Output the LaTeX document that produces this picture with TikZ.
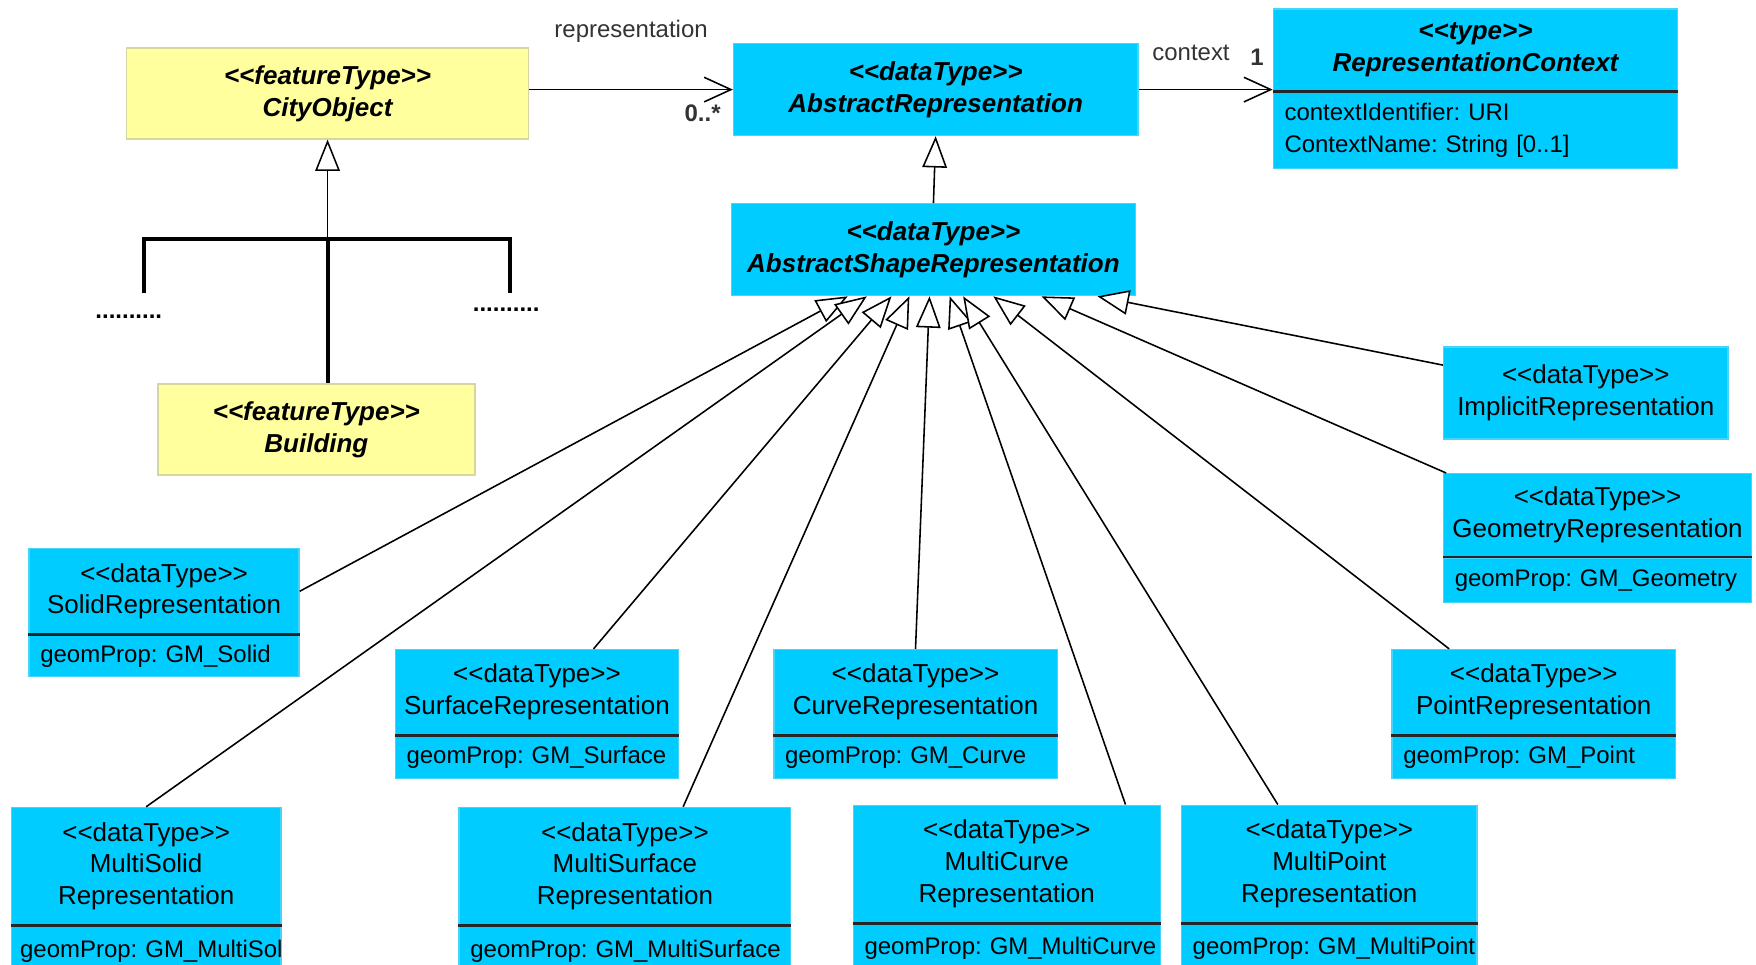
\documentclass[tikz,border=0pt]{standalone}
\usepackage{fontspec}
\setmainfont{Liberation Sans}
\usetikzlibrary{positioning,arrows.meta}

\definecolor{dtcyan}{RGB}{0,204,255}
\definecolor{dtedge}{RGB}{70,212,250}
\definecolor{ftyellow}{RGB}{255,255,158}
\definecolor{ftedge}{RGB}{214,214,160}
\newcommand\stereo[1]{<{}<#1>{}>}
\newcommand\hdfont{\fontsize{11.6}{14.25}\selectfont}
\newcommand\atfont{\fontsize{10.7}{14}\selectfont\frenchspacing}

\tikzset{
  ftbox/.style={draw=ftedge, fill=ftyellow, line width=0.6pt, align=center,
    inner sep=0pt, font=\hdfont\bfseries\itshape},
  dtbox/.style={draw=dtedge, fill=dtcyan, line width=0.6pt, align=center,
    inner sep=0pt, font=\hdfont},
  absbox/.style={dtbox, font=\hdfont\bfseries\itshape},
  attrbox/.style={dtbox, align=left, inner xsep=5pt, font=\atfont, minimum height=#1},
  divider/.style={line width=1.1pt, black!85},
  gen/.style={line width=0.7pt, -{Triangle[length=14pt, width=11pt, fill=white]}},
  assoc/.style={line width=0.7pt, -{Straight Barb[length=12pt, width=11pt]}},
  tree/.style={line width=1.8pt},
  role/.style={font=\atfont, text=black!80},
}

\begin{document}
\begin{tikzpicture}[x=0.5pt, y=-0.5pt]
\useasboundingbox (0,0) rectangle (1568,861);
\clip (0,0) rectangle (1568,861);

% feature types
\node[ftbox, minimum width=179.5pt, minimum height=40.5pt] (city) at (292.5,83.5) {\stereo{featureType}\\CityObject};
\node[ftbox, minimum width=141.5pt, minimum height=40.5pt] (building) at (282.5,383.5) {\stereo{featureType}\\Building};

% abstract types
\node[absbox, minimum width=180.5pt, minimum height=41pt] (absrep) at (835.5,80) {\stereo{dataType}\\AbstractRepresentation};
\node[absbox, minimum width=180.5pt, minimum height=41pt] (asr) at (833.5,223) {\stereo{dataType}\\AbstractShapeRepresentation};
\node[absbox, minimum width=180.5pt, minimum height=36.5pt] (ctx) at (1317.5,44.5) {\stereo{type}\\RepresentationContext};
\node[attrbox=34pt, text width=170.5pt, below=0pt of ctx] (ctx-a) {contextIdentifier:~URI\\ContextName:~String~[0..1]};

% concrete representations
\node[dtbox, minimum width=127pt, minimum height=41pt] (implicit) at (1416,351) {\stereo{dataType}\\ImplicitRepresentation};
\node[dtbox, minimum width=137.5pt, minimum height=37pt] (geom) at (1426.5,460) {\stereo{dataType}\\GeometryRepresentation};
\node[attrbox=20pt, text width=127.5pt, below=0pt of geom] (geom-a) {geomProp:~GM\_Geometry};
\node[dtbox, minimum width=120.5pt, minimum height=38pt] (solid) at (146.5,528) {\stereo{dataType}\\SolidRepresentation};
\node[attrbox=18.5pt, text width=110.5pt, below=0pt of solid] (solid-a) {geomProp:~GM\_Solid};
\node[dtbox, minimum width=126.5pt, minimum height=38pt] (surface) at (479.5,618) {\stereo{dataType}\\SurfaceRepresentation};
\node[attrbox=19pt, text width=116.5pt, below=0pt of surface] (surface-a) {geomProp:~GM\_Surface};
\node[dtbox, minimum width=126.5pt, minimum height=38pt] (curve) at (817.5,618) {\stereo{dataType}\\CurveRepresentation};
\node[attrbox=19pt, text width=116.5pt, below=0pt of curve] (curve-a) {geomProp:~GM\_Curve};
\node[dtbox, minimum width=126.5pt, minimum height=38pt] (point) at (1369.5,618) {\stereo{dataType}\\PointRepresentation};
\node[attrbox=19pt, text width=116.5pt, below=0pt of point] (point-a) {geomProp:~GM\_Point};

% multi representations
\node[dtbox, minimum width=120.5pt, minimum height=52.5pt] (msolid) at (130.5,773.5) {\stereo{dataType}\\MultiSolid\\Representation};
\node[attrbox=22pt, inner xsep=4pt, text width=112.5pt, below=0pt of msolid] (msolid-a) {geomProp:~GM\_MultiSol};
\node[dtbox, minimum width=148pt, minimum height=52.5pt] (msurface) at (558,773.5) {\stereo{dataType}\\MultiSurface\\Representation};
\node[attrbox=22pt, text width=138pt, below=0pt of msurface] (msurface-a) {geomProp:~GM\_MultiSurface};
\node[dtbox, minimum width=137pt, minimum height=52.5pt] (mcurve) at (899,771.5) {\stereo{dataType}\\MultiCurve\\Representation};
\node[attrbox=22pt, text width=127pt, below=0pt of mcurve] (mcurve-a) {geomProp:~GM\_MultiCurve};
\node[dtbox, minimum width=132pt, minimum height=52.5pt] (mpoint) at (1187,771.5) {\stereo{dataType}\\MultiPoint\\Representation};
\node[attrbox=22pt, text width=122pt, below=0pt of mpoint] (mpoint-a) {geomProp:~GM\_MultiPoint};

\foreach \n in {ctx,geom,solid,surface,curve,point,msolid,msurface,mcurve,mpoint}
  \draw[divider] (\n.south west) -- (\n.south east);

% associations
\draw[assoc] (city.east |- absrep.west) -- (absrep.west)
  node[role, pos=0.5, yshift=26pt] {representation}
  node[role, pos=1, xshift=-13.5pt, yshift=-10.5pt, font=\atfont\bfseries] {0..*};
\draw[assoc] (absrep.east) -- (absrep.east -| ctx.west)
  node[role, pos=0.5, xshift=-6.5pt, yshift=16.5pt] {context}
  node[role, pos=1, xshift=-7pt, yshift=14.5pt, font=\atfont\bfseries] {1};

% city object tree
\coordinate (bar) at (292.5,213);
\coordinate (leftend) at (129,262);
\coordinate (rightend) at (455,262);
\draw[tree] (leftend) |- (bar) -| (rightend);
\draw[tree] (bar) -- (bar |- building.north);
\draw[gen] (bar) -- (bar |- city.south);
\node[font=\atfont\bfseries] (dotsl) at (115,283) {..........};
\node[font=\atfont\bfseries] (dotsr) at (452,277) {..........};

% generalizations
\draw[gen] (asr.north) -- (absrep.south);
\draw[gen] (solid.east) -- ([shift={(-76.5,0)}]asr.south);
\draw[gen] (msolid.north) -- ([shift={(-59.5,0)}]asr.south);
\draw[gen] ([shift={(50.5,0)}]surface.north) -- ([shift={(-37.5,0)}]asr.south);
\draw[gen] ([shift={(52,0)}]msurface.north) -- ([shift={(-21.5,0)}]asr.south);
\draw[gen] (curve.north) -- ([shift={(-3.5,0)}]asr.south);
\draw[gen] ([shift={(106,0)}]mcurve.north) -- ([shift={(14.5,0)}]asr.south);
\draw[gen] ([shift={(-46,0)}]mpoint.north) -- ([shift={(26.5,0)}]asr.south);
\draw[gen] ([shift={(-75.5,0)}]point.north) -- ([shift={(53.5,0)}]asr.south);
\draw[gen] ([shift={(3,0)}]geom.north west) -- ([shift={(96.5,0)}]asr.south);
\draw[gen] ([shift={(0,-25)}]implicit.west) -- ([shift={(146.5,0)}]asr.south);
\end{tikzpicture}
\end{document}
